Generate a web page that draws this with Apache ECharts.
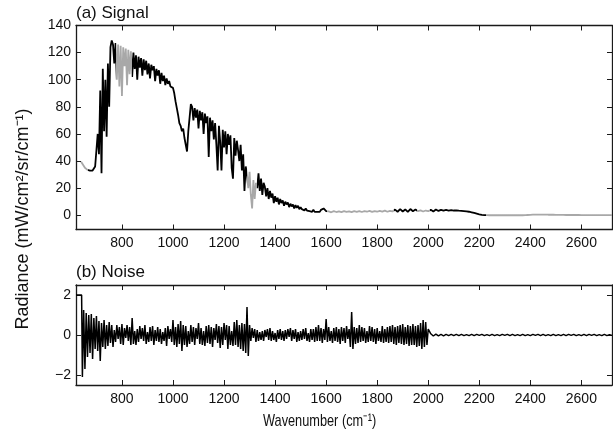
<!DOCTYPE html>
<html>
<head>
<meta charset="utf-8">
<script src="https://cdn.jsdelivr.net/npm/echarts@6/dist/echarts.min.js"></script>
<style>
html, body { margin: 0; padding: 0; background: #fff; }
#main { width: 613px; height: 436px; }
</style>
</head>
<body>
<div id="main"></div>
<script>
// wavenumber ticks shared by both panels
var xTicks = [800, 1000, 1200, 1400, 1600, 1800, 2000, 2200, 2400, 2600];
var sigTicks = [0, 20, 40, 60, 80, 100, 120, 140];
var noiseTicks = [-2, 0, 2];

// signal, 640..1600 every 5 cm-1
var sigFine = [
  39.5, 38, 36.5, 35, 34, 33.5, 33, 33, 33.5, 33, 34,
  36, 48, 60, 45, 92, 31, 108, 62, 100, 58, 112, 80, 124, 129,
  126, 112, 127, 100, 126, 95, 125, 88, 124, 110,
  123, 96, 122, 104, 121, 102, 120, 108, 118, 100,
  117, 109, 116, 103, 115, 107, 114, 104, 112, 101,
  111, 107, 110, 99, 108, 103, 107, 97, 105, 99,
  103, 96, 101, 97, 99, 95, 96, 94,
  90, 84, 79, 74, 68, 66, 62, 64, 57, 52, 47, 62, 72, 82,
  80, 70, 79, 72, 78, 64, 77, 70, 76, 60,
  75, 68, 73, 43, 72, 62, 70, 56, 68, 52,
  33, 66, 54, 33, 63, 50, 62, 45, 60, 52,
  59, 35, 27, 57, 44, 55,
  48, 40, 52, 33, 45, 18, 36, 30, 20, 32, 15, 5, 26, 12, 24, 20,
  31, 18, 27, 15, 24, 21, 14, 20, 12, 18,
  13, 16, 9, 14, 10, 13, 8, 12, 9, 11,
  7, 10, 8, 9.5, 6, 8.5, 6.5, 8, 5, 7.5,
  5.5, 7, 4.5, 6, 4.5, 5.5, 3.5, 5, 3.5, 4.5,
  3, 4, 2.5, 4, 2.5, 3.5, 2.5, 3.5, 2.5, 4,
  3, 5, 6, 3
];
// signal, 1610..2720 every 10 cm-1
var sigTail = [
  2.8, 2.2, 3.0, 2.4, 2.9, 2.3, 3.1, 2.5, 2.9, 2.3, 3.0, 2.5, 3.1,
  2.4, 3.0, 2.6, 3.2, 2.5, 3.1, 2.6, 3.3, 2.7, 3.4, 2.6, 3.3, 2.8,
  4.2, 2.6, 4.5, 2.8, 4.3, 2.5, 4.6, 3.0, 4.2,
  3.0, 3.6, 2.8, 3.5, 3.0,
  4.0, 2.8, 4.2, 3.2, 4.0, 3.4, 3.9, 3.5, 3.8, 3.5, 3.6,
  3.4, 3.3, 3.1, 2.9, 2.6, 2.2, 1.7, 1.2, 0.7, 0.3, 0.1,
  0.1, 0, 0, 0, 0, 0, 0, 0, 0, 0, 0, 0, 0, 0, 0, 0.1, 0.2, 0.3, 0.4, 0.5,
  0.5, 0.5, 0.5, 0.5, 0.4, 0.4, 0.4, 0.3, 0.3, 0.3, 0.3, 0.2, 0.2, 0.2, 0.2,
  0.2, 0.2, 0.1, 0.1, 0.1, 0.1, 0.1, 0.1, 0.1, 0.1, 0.1, 0.1, 0.1, 0.1, 0.1
];
// wavenumber ranges drawn in grey
var greyRanges = [[620, 668], [775, 840], [1290, 1330], [1605, 1865], [1955, 2005], [2225, 2720]];

// noise
var noiseLead = [[620, 2.0], [642, 2.0]];
// 645..2000 every 5 cm-1
var noiseFine = [
  -2.1, 1.25, -1.7, 1.1, -1.1, 1.0, -0.9, 1.05, -1.2, 0.85, -0.7, 0.95, -0.8, 0.7, -1.3, 0.6, -0.6, 0.75, -0.7, 0.5,
  -0.55, 0.65, -0.4, 0.5, -0.6, 0.25, -0.35, 0.5, -0.2, 0.4, -0.45, 0.55, -0.5, 0.35, -0.15, 0.5, -0.3, 0.4, -0.5, 0.85,
  -0.45, 0.2, -0.5, 0.3, -0.35, 0.45, -0.2, 0.35, -0.3, 0.5, -0.45, 0.15, -0.35, 0.4, -0.3, 0.45, -0.5, 0.25, -0.3, 0.4,
  -0.35, 0.3, -0.45, 0.15, -0.3, 0.35, -0.55, 0.45, -0.2, 0.3, -0.35, 0.75, -0.5, 0.4, -0.6, 0.55, -0.45, 0.7, -0.8, 0.5,
  -0.5, 0.45, -0.6, 0.2, -0.45, 0.5, -0.35, 0.4, -0.5, 0.35, -0.2, 0.6, -0.45, 0.35, -0.5, 0.2, -0.55, 0.45, -0.4, 0.5,
  -0.45, 0.4, -0.6, 0.35, -0.25, 0.55, -0.4, 0.45, -0.65, 0.4, -0.5, 0.6, -0.25, 0.5, -0.7, 0.45, -0.5, 0.2, -0.55, 0.65,
  -0.5, 0.75, -0.6, 0.5, -0.7, 0.6, -0.8, 0.55, -0.9, 1.4, -1.05, 0.5, -0.3, 0.35, -0.15, 0.3, -0.35, 0.25, -0.3, 0.15,
  -0.25, 0.2, -0.3, 0.25, -0.1, 0.3, -0.25, 0.35, -0.3, 0.2, -0.25, 0.1, -0.35, 0.25, -0.2, 0.3, -0.25, 0.2, -0.3, 0.25,
  -0.2, 0.3, -0.1, 0.35, -0.3, 0.25, -0.2, 0.3, -0.35, 0.15, -0.3, 0.2, -0.25, 0.3, -0.2, 0.35, -0.3, 0.1, -0.35, 0.3,
  -0.25, 0.3, -0.35, 0.4, -0.3, 0.5, -0.3, 0.35, -0.4, 0.3, -0.25, 0.8, -0.35, 0.4, -0.3, 0.2, -0.4, 0.35, -0.3, 0.4,
  -0.35, 0.3, -0.45, 0.4, -0.3, 0.35, -0.4, 0.45, -0.2, 0.3, -0.6, 1.15, -0.7, 0.4, -0.45, 0.35, -0.4, 0.5, -0.35, 0.4,
  -0.3, 0.35, -0.4, 0.2, -0.35, 0.45, -0.3, 0.4, -0.35, 0.3, -0.45, 0.35, -0.3, 0.2, -0.35, 0.45, -0.4, 0.3, -0.35, 0.4,
  -0.4, 0.45, -0.35, 0.5, -0.45, 0.4, -0.5, 0.45, -0.4, 0.5, -0.45, 0.55, -0.5, 0.4, -0.45, 0.5, -0.55, 0.45, -0.5, 0.55,
  -0.5, 0.45, -0.6, 0.5, -0.55, 0.6, -0.7, 0.75, -0.6, 0.65, -0.5, 0.3
];
// 2010..2720 every 10 cm-1
var noiseTail = [
  0.06, -0.05, 0.04, -0.04, 0.03, -0.04, 0.03, -0.03, 0.03, -0.03,
  0.03, -0.03, 0.03, -0.03, 0.02, -0.03, 0.03, -0.03, 0.03, -0.02,
  0.03, -0.03, 0.02, -0.03, 0.03, -0.03, 0.02, -0.03, 0.03, -0.02,
  0.03, -0.03, 0.03, -0.03, 0.02, -0.03, 0.03, -0.03, 0.02, -0.03,
  0.03, -0.02, 0.03, -0.03, 0.03, -0.03, 0.02, -0.03, 0.03, -0.03,
  0.02, -0.03, 0.03, -0.03, 0.03, -0.02, 0.03, -0.03, 0.02, -0.03,
  0.03, -0.03, 0.03, -0.02, 0.03, -0.03, 0.02, -0.03, 0.03, -0.03,
  0.02, -0.02
];

function toPairs(start, step, vals) {
  return vals.map(function (v, i) { return [start + i * step, v]; });
}
var signalData = toPairs(640, 5, sigFine).concat(toPairs(1610, 10, sigTail));
var noiseData = noiseLead.concat(toPairs(645, 5, noiseFine), toPairs(2010, 10, noiseTail));

// black everywhere, grey in greyRanges
var pieces = [];
var prev = 600;
greyRanges.forEach(function (r) {
  pieces.push({ gte: prev, lt: r[0], color: '#000' });
  pieces.push({ gte: r[0], lt: r[1], color: '#a8a8a8' });
  prev = r[1];
});
pieces.push({ gte: prev, color: '#a8a8a8' });

var font = 'Liberation Sans';
var axisLine = { show: true, onZero: false, lineStyle: { color: '#1a1a1a', width: 1.3 } };

function xAx(grid, pos, labels) {
  return {
    type: 'value', gridIndex: grid, position: pos, min: 620, max: 2720,
    axisLine: axisLine,
    axisTick: { show: true, inside: true, length: 5, customValues: xTicks, lineStyle: { color: '#1a1a1a' } },
    axisLabel: {
      show: labels, customValues: xTicks, margin: 7, fontSize: 14, color: '#111', fontFamily: font,
      formatter: function (v) { return String(v); }
    },
    splitLine: { show: false }
  };
}
function yAx(grid, pos, labels, min, max, ticks) {
  return {
    type: 'value', gridIndex: grid, position: pos, min: min, max: max,
    axisLine: axisLine,
    axisTick: { show: true, inside: true, length: 5, customValues: ticks, lineStyle: { color: '#1a1a1a' } },
    axisLabel: {
      show: labels, customValues: ticks, margin: 5, fontSize: 14, color: '#111', fontFamily: font,
      formatter: function (v) { return String(v).replace('-', '\u2212'); }
    },
    splitLine: { show: false }
  };
}

var myChart = echarts.init(document.getElementById('main'));
option = {
  backgroundColor: '#fff',
  animation: false,
  grid: [
    { left: 76, right: 1, top: 25.5, height: 204 },
    { left: 76, right: 1, top: 285, height: 100 }
  ],
  xAxis: [
    xAx(0, 'bottom', true), xAx(0, 'top', false),
    xAx(1, 'bottom', true), xAx(1, 'top', false)
  ],
  yAxis: [
    yAx(0, 'left', true, -10.5, 140, sigTicks), yAx(0, 'right', false, -10.5, 140, sigTicks),
    yAx(1, 'left', true, -2.5, 2.5, noiseTicks), yAx(1, 'right', false, -2.5, 2.5, noiseTicks)
  ],
  visualMap: {
    type: 'piecewise', show: false, dimension: 0, seriesIndex: 0, pieces: pieces
  },
  graphic: [
    { type: 'text', left: 76, top: 5, style: { text: '(a) Signal', fontSize: 17, fontFamily: font, fill: '#111' } },
    { type: 'text', left: 76, top: 264, style: { text: '(b) Noise', fontSize: 17, fontFamily: font, fill: '#111' } },
    { type: 'text', x: 263, y: 421, scaleX: 0.75,
      style: { text: 'Wavenumber (cm\u207B\u00B9)', fontSize: 17, fontFamily: font, fill: '#111', align: 'left', verticalAlign: 'middle' } },
    { type: 'text', x: 23, y: 219, rotation: Math.PI / 2,
      style: { text: 'Radiance (mW/cm\u00B2/sr/cm\u207B\u00B9)', fontSize: 18, fontFamily: font, fill: '#111', align: 'center', verticalAlign: 'middle' } }
  ],
  series: [
    {
      name: 'Signal', type: 'line', xAxisIndex: 0, yAxisIndex: 0,
      showSymbol: false, data: signalData,
      lineStyle: { width: 1.8 }
    },
    {
      name: 'Noise', type: 'line', xAxisIndex: 2, yAxisIndex: 2,
      showSymbol: false, data: noiseData,
      lineStyle: { width: 1.5, color: '#000' }
    }
  ]
};
myChart.setOption(option);
</script>
</body>
</html>
